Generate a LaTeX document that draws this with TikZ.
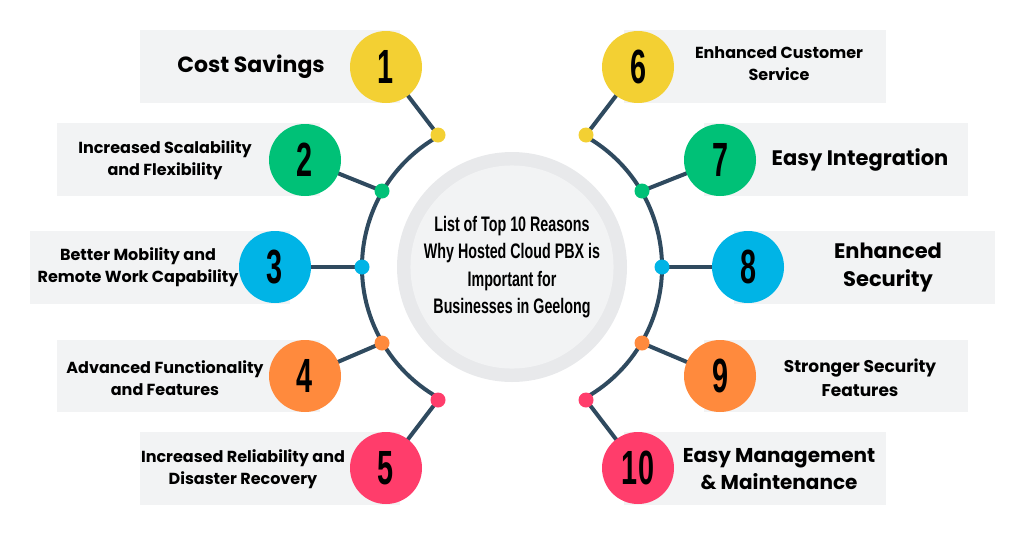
\documentclass[tikz,border=0pt]{standalone}
\usepackage{fontspec}
\setmainfont{Poppins}
\newfontfamily\numfont{Liberation Sans}
\newfontfamily\titlefont{Liberation Sans}
\definecolor{cy}{HTML}{F3D033}
\definecolor{cg}{HTML}{00C177}
\definecolor{cb}{HTML}{00B4E6}
\definecolor{co}{HTML}{FF8A3D}
\definecolor{cp}{HTML}{FF3D6B}
\definecolor{ln}{HTML}{2F4A5F}
\definecolor{bx}{HTML}{F2F3F4}
\definecolor{ring}{HTML}{E8E9EB}
\pgfdeclarelayer{panels}
\pgfdeclarelayer{bg}
\pgfsetlayers{panels,bg,main}
\begin{document}
\begin{tikzpicture}[x=1pt,y=-1pt,
  panel/.style={fill=bx,draw=none},
  big/.style={circle,minimum size=72pt,inner sep=0pt,text=black,font=\numfont\bfseries\fontsize{48}{48}\selectfont},
  dot/.style={circle,minimum size=15pt,inner sep=0pt},
  conn/.style={draw=ln,line width=4pt},
  lab/.style={align=center,font=\bfseries\fontsize{16}{22}\selectfont,text=black},
  labbig/.style={align=center,font=\bfseries\fontsize{22}{28}\selectfont,text=black}]
\useasboundingbox (0,0) rectangle (1024,536);
\begin{pgfonlayer}{panels}
\fill[panel] (140,30) rectangle (400,103);
\fill[panel] (57,123) rectangle (320,196);
\fill[panel] (30,231) rectangle (290,304);
\fill[panel] (57,340) rectangle (320,412);
\fill[panel] (140,432) rectangle (400,505);
\fill[panel] (624,30) rectangle (886,103);
\fill[panel] (704,123) rectangle (968,196);
\fill[panel] (734,231) rectangle (995,304);
\fill[panel] (704,340) rectangle (968,412);
\fill[panel] (624,432) rectangle (886,505);
\end{pgfonlayer}
% center
\node[circle,fill=ring,minimum size=230pt,inner sep=0pt] (ring) at (512,267) {};
\node[circle,fill=bx,minimum size=202pt,inner sep=0pt,align=center,
  font=\titlefont\bfseries\fontsize{21}{26}\selectfont] (ctr) at (512,267)
  {\scalebox{0.68}[1]{\shortstack{List of Top 10 Reasons\\[5pt]Why Hosted Cloud PBX is\\[5pt]Important for\\[5pt]Businesses in Geelong}}};
% dots
\node[dot,fill=cy] (d1) at (438,135) {};
\node[dot,fill=cg] (d2) at (382,191) {};
\node[dot,fill=cb] (d3) at (362,267) {};
\node[dot,fill=co] (d4) at (382,343) {};
\node[dot,fill=cp] (d5) at (438,400) {};
\node[dot,fill=cy] (d6) at (586,135) {};
\node[dot,fill=cg] (d7) at (642,191) {};
\node[dot,fill=cb] (d8) at (662,267) {};
\node[dot,fill=co] (d9) at (642,343) {};
\node[dot,fill=cp] (d10) at (586,400) {};
% big circles
\node[big,fill=cy] (n1) at (386,67) {\scalebox{0.6}[1]{1}};
\node[big,fill=cg] (n2) at (305,160) {\scalebox{0.6}[1]{2}};
\node[big,fill=cb] (n3) at (275,267) {\scalebox{0.6}[1]{3}};
\node[big,fill=co] (n4) at (305,376) {\scalebox{0.6}[1]{4}};
\node[big,fill=cp] (n5) at (386,468) {\scalebox{0.6}[1]{5}};
\node[big,fill=cy] (n6) at (638,67) {\scalebox{0.6}[1]{6}};
\node[big,fill=cg] (n7) at (720,160) {\scalebox{0.6}[1]{7}};
\node[big,fill=cb] (n8) at (748,267) {\scalebox{0.6}[1]{8}};
\node[big,fill=co] (n9) at (720,376) {\scalebox{0.6}[1]{9}};
\node[big,fill=cp] (n10) at (638,468) {\scalebox{0.6}[1]{10}};
\begin{pgfonlayer}{bg}
\draw[conn] (ring.center) ++(240:150) arc[start angle=240,end angle=120,radius=150];
\draw[conn] (ring.center) ++(-60:150) arc[start angle=-60,end angle=60,radius=150];
\foreach \i in {1,...,10}{\draw[conn] (d\i.center) -- (n\i.center);}
\end{pgfonlayer}
% labels
\node[labbig] (t1) at (251,67) {Cost Savings};
\node[lab] (t2) at (165,160) {Increased Scalability\\and Flexibility};
\node[lab] (t3) at (138,267) {Better Mobility and\\Remote Work Capability};
\node[lab] (t4) at (165,378) {Advanced Functionality\\and Features};
\node[lab] (t5) at (243,469) {Increased Reliability and\\Disaster Recovery};
\node[lab] (t6) at (779,64) {Enhanced Customer\\Service};
\node[labbig,font=\bfseries\fontsize{21}{28}\selectfont] (t7) at (860,160) {Easy Integration};
\node[labbig,font=\bfseries\fontsize{21}{28}\selectfont] (t8) at (888,268) {Enhanced\\Security};
\node[lab,font=\bfseries\fontsize{17}{24}\selectfont] (t9) at (860,378) {Stronger Security\\Features};
\node[labbig,font=\bfseries\fontsize{20}{27}\selectfont] (t10) at (779,469) {Easy Management\\\& Maintenance};
\end{tikzpicture}
\end{document}
